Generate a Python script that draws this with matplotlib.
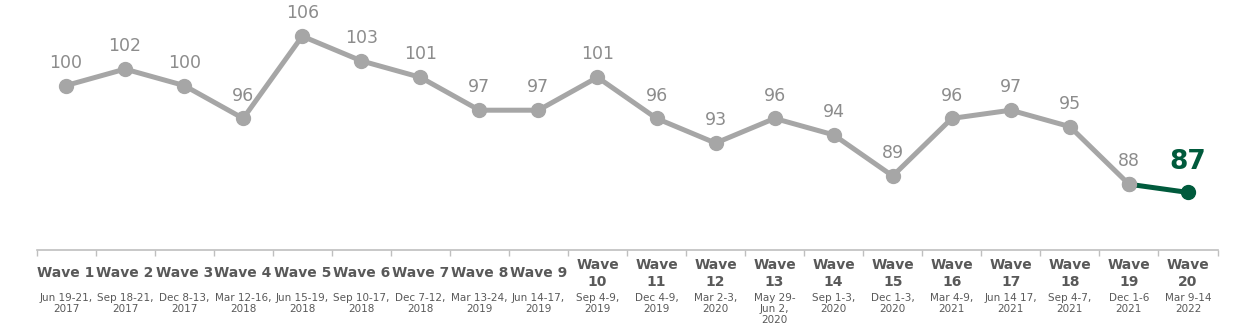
import matplotlib
matplotlib.use("Agg")
import matplotlib.pyplot as plt

# waves, values and date labels
waves = ["Wave 1", "Wave 2", "Wave 3", "Wave 4", "Wave 5", "Wave 6", "Wave 7",
         "Wave 8", "Wave 9", "Wave\n10", "Wave\n11", "Wave\n12", "Wave\n13",
         "Wave\n14", "Wave\n15", "Wave\n16", "Wave\n17", "Wave\n18", "Wave\n19",
         "Wave\n20"]
values = [100, 102, 100, 96, 106, 103, 101, 97, 97, 101, 96, 93, 96, 94, 89,
          96, 97, 95, 88, 87]
dates = ["Jun 19-21,\n2017", "Sep 18-21,\n2017", "Dec 8-13,\n2017",
         "Mar 12-16,\n2018", "Jun 15-19,\n2018", "Sep 10-17,\n2018",
         "Dec 7-12,\n2018", "Mar 13-24,\n2019", "Jun 14-17,\n2019",
         "Sep 4-9,\n2019", "Dec 4-9,\n2019", "Mar 2-3,\n2020",
         "May 29-\nJun 2,\n2020", "Sep 1-3,\n2020", "Dec 1-3,\n2020",
         "Mar 4-9,\n2021", "Jun 14 17,\n2021", "Sep 4-7,\n2021",
         "Dec 1-6\n2021", "Mar 9-14\n2022"]

grey = "#a6a6a6"
green = "#005a3c"
txt = "#595959"

plt.rcParams['font.family'] = ['DejaVu Sans']

fig = plt.figure(figsize=(12.35, 3.35), dpi=100)
ax = fig.add_axes([36.5 / 1235, 85 / 335, (1217.5 - 36.5) / 1235, 250 / 335])

x = list(range(len(values)))
ax.plot(x[:-1], values[:-1], color=grey, lw=3.6, marker="o", ms=10,
        solid_capstyle="round", zorder=2)
ax.plot(x[-2:], values[-2:], color=green, lw=3.6, zorder=3)
ax.plot(x[-2], values[-2], "o", color=grey, ms=10, zorder=4)
ax.plot(x[-1], values[-1], "o", color=green, ms=10, zorder=4)

for i, v in enumerate(values):
    if i == len(values) - 1:
        ax.annotate(str(v), (i, v), xytext=(0, 22), textcoords="offset points",
                    ha="center", va="center", fontsize=19, fontweight="bold",
                    color=green)
    else:
        ax.annotate(str(v), (i, v), xytext=(0, 16.5), textcoords="offset points",
                    ha="center", va="center", fontsize=12.5, color="#8c8c8c")

ax.set_xlim(-0.5, len(values) - 0.5)
ax.set_ylim(80, 110.4)

for s in ["top", "right", "left"]:
    ax.spines[s].set_visible(False)
ax.spines["bottom"].set_color("#bfbfbf")
ax.spines["bottom"].set_linewidth(1.2)
ax.set_yticks([])
ax.set_xticks([i - 0.5 for i in range(len(values) + 1)])
ax.set_xticklabels([])
ax.tick_params(axis="x", length=4, color="#bfbfbf", width=1)

trans = ax.get_xaxis_transform()
for i, (w, d) in enumerate(zip(waves, dates)):
    if "\n" in w:
        ax.text(i, -8 / 250, w, transform=trans, ha="center", va="top",
                fontsize=10, fontweight="bold", color=txt, linespacing=1.3)
    else:
        ax.text(i, -23 / 250, w, transform=trans, ha="center", va="center",
                fontsize=10, fontweight="bold", color=txt)
    ax.text(i, -43 / 250, d, transform=trans, ha="center", va="top",
            fontsize=7.5, color=txt, linespacing=1.1)

fig.savefig("out.png", dpi=100)
